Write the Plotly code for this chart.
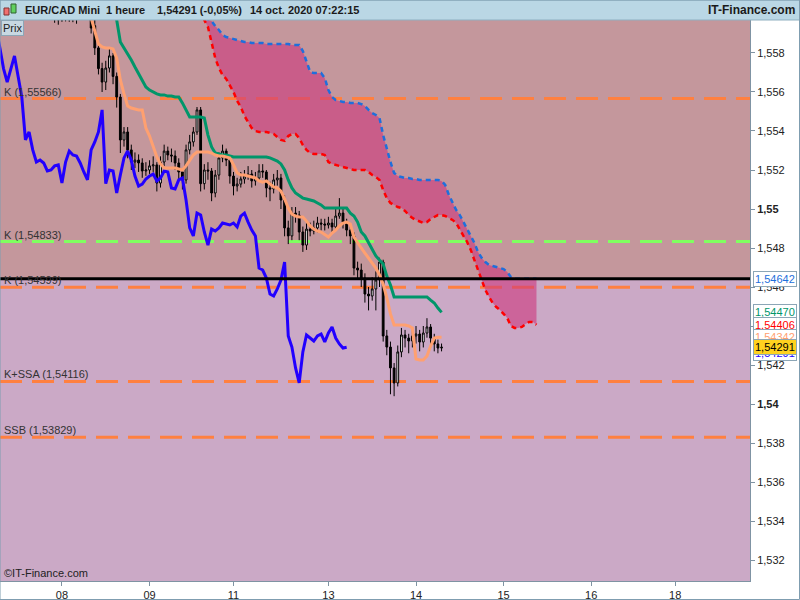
import plotly.graph_objects as go

# EUR/CAD Mini, 1 hour bars. Bar index 0 = 14 oct. 00:00 (weekends skipped)
first_bar = -100
opens = [1.56040, 1.56010, 1.55980, 1.55970, 1.56020, 1.55990, 1.56030, 1.56000, 1.56010, 1.56050, 1.56030, 1.55990,
         1.55940, 1.55826, 1.55720, 1.55651, 1.55723, 1.55785, 1.55680, 1.55574, 1.55354, 1.55395,
         1.55303, 1.55241, 1.55251, 1.55236, 1.55195, 1.55200, 1.55221, 1.55226, 1.55133, 1.55241,
         1.55297, 1.55277, 1.55272, 1.55236, 1.55190, 1.55149, 1.55303, 1.55344, 1.55395, 1.55508,
         1.55130, 1.55200, 1.55195, 1.55082, 1.55174, 1.55262, 1.55297, 1.55251, 1.55169, 1.55118,
         1.55128, 1.55154, 1.55169, 1.55179, 1.55144, 1.55159, 1.55195, 1.55190, 1.55108, 1.55103,
         1.55149, 1.55159, 1.55046, 1.54903, 1.54862, 1.54979, 1.54969, 1.54882, 1.54815, 1.54897,
         1.54887, 1.54903, 1.54928, 1.54923, 1.54918, 1.54928, 1.54908, 1.54964, 1.54979, 1.54933,
         1.54892, 1.54862, 1.54697, 1.54687, 1.54646, 1.54564, 1.54554, 1.54590, 1.54636, 1.54728,
         1.54349, 1.54292, 1.54185, 1.54108, 1.54267, 1.54354, 1.54338, 1.54323, 1.54349, 1.54359,
         1.54318, 1.54364, 1.54395, 1.54338, 1.54308, 1.54287]
highs = [1.56080, 1.56050, 1.56020, 1.56060, 1.56050, 1.56070, 1.56060, 1.56040, 1.56080, 1.56090, 1.56060, 1.56020,
         1.55970, 1.55850, 1.55750, 1.55760, 1.55820, 1.55800, 1.55700, 1.55590, 1.55420, 1.55420,
         1.55330, 1.55290, 1.55280, 1.55260, 1.55240, 1.55250, 1.55270, 1.55240, 1.55270, 1.55330,
         1.55320, 1.55310, 1.55300, 1.55260, 1.55210, 1.55330, 1.55380, 1.55420, 1.55523, 1.55523,
         1.55230, 1.55240, 1.55210, 1.55200, 1.55290, 1.55330, 1.55310, 1.55270, 1.55190, 1.55160,
         1.55190, 1.55200, 1.55220, 1.55200, 1.55190, 1.55230, 1.55230, 1.55200, 1.55140, 1.55180,
         1.55200, 1.55180, 1.55070, 1.54940, 1.55010, 1.55010, 1.54990, 1.54910, 1.54930, 1.54930,
         1.54940, 1.54960, 1.54950, 1.54950, 1.54960, 1.54950, 1.55000, 1.55056, 1.55000, 1.54950,
         1.54910, 1.54880, 1.54730, 1.54720, 1.54670, 1.54600, 1.54650, 1.54680, 1.54750, 1.54740,
         1.54380, 1.54320, 1.54210, 1.54300, 1.54390, 1.54380, 1.54360, 1.54390, 1.54400, 1.54380,
         1.54400, 1.54440, 1.54410, 1.54360, 1.54330, 1.54310]
lows = [1.55990, 1.55955, 1.55945, 1.55960, 1.55962, 1.55960, 1.55958, 1.55950, 1.55990, 1.56000, 1.55970, 1.55900,
        1.55790, 1.55690, 1.55600, 1.55610, 1.55700, 1.55640, 1.55520, 1.55287, 1.55320, 1.55260,
        1.55200, 1.55210, 1.55190, 1.55160, 1.55170, 1.55180, 1.55190, 1.55090, 1.55110, 1.55220,
        1.55250, 1.55240, 1.55200, 1.55150, 1.55100, 1.55130, 1.55280, 1.55320, 1.55380, 1.55090,
        1.55100, 1.55150, 1.55040, 1.55060, 1.55150, 1.55240, 1.55220, 1.55130, 1.55070, 1.55090,
        1.55110, 1.55130, 1.55150, 1.55110, 1.55120, 1.55140, 1.55160, 1.55060, 1.55040, 1.55080,
        1.55120, 1.55000, 1.54860, 1.54820, 1.54840, 1.54930, 1.54840, 1.54780, 1.54790, 1.54860,
        1.54870, 1.54880, 1.54890, 1.54890, 1.54900, 1.54880, 1.54890, 1.54950, 1.54900, 1.54860,
        1.54820, 1.54660, 1.54640, 1.54600, 1.54520, 1.54480, 1.54530, 1.54480, 1.54600, 1.54320,
        1.54250, 1.54050, 1.54040, 1.54090, 1.54240, 1.54290, 1.54260, 1.54290, 1.54310, 1.54270,
        1.54290, 1.54340, 1.54290, 1.54270, 1.54260, 1.54270]
closes = [1.56010, 1.55980, 1.55970, 1.56020, 1.55990, 1.56030, 1.56000, 1.56010, 1.56050, 1.56030, 1.55990, 1.55928,
          1.55826, 1.55720, 1.55651, 1.55723, 1.55785, 1.55680, 1.55574, 1.55354, 1.55395, 1.55303,
          1.55241, 1.55251, 1.55236, 1.55195, 1.55200, 1.55221, 1.55226, 1.55133, 1.55241, 1.55297,
          1.55277, 1.55272, 1.55236, 1.55190, 1.55149, 1.55303, 1.55344, 1.55395, 1.55508, 1.55130,
          1.55200, 1.55195, 1.55082, 1.55174, 1.55262, 1.55297, 1.55251, 1.55169, 1.55118, 1.55128,
          1.55154, 1.55169, 1.55179, 1.55144, 1.55159, 1.55195, 1.55190, 1.55108, 1.55103, 1.55149,
          1.55159, 1.55046, 1.54903, 1.54862, 1.54979, 1.54969, 1.54882, 1.54815, 1.54897, 1.54887,
          1.54903, 1.54928, 1.54923, 1.54918, 1.54928, 1.54908, 1.54964, 1.54979, 1.54933, 1.54892,
          1.54862, 1.54697, 1.54687, 1.54646, 1.54564, 1.54554, 1.54590, 1.54636, 1.54728, 1.54349,
          1.54292, 1.54185, 1.54108, 1.54267, 1.54354, 1.54338, 1.54323, 1.54349, 1.54359, 1.54318,
          1.54364, 1.54395, 1.54338, 1.54308, 1.54287, 1.54291]

# Ichimoku lines
tenkan_start = -90
tenkan = [1.56046, 1.55979, 1.55918, 1.55846, 1.55831, 1.55826, 1.55826, 1.55821, 1.55774, 1.55662,
          1.55590, 1.55528, 1.55518, 1.55513, 1.55508, 1.55508, 1.55415, 1.55374, 1.55323, 1.55267,
          1.55231, 1.55210, 1.55210, 1.55210, 1.55210, 1.55205, 1.55200, 1.55221, 1.55246, 1.55277,
          1.55292, 1.55292, 1.55292, 1.55292, 1.55287, 1.55277, 1.55272, 1.55272, 1.55267, 1.55262,
          1.55226, 1.55185, 1.55174, 1.55174, 1.55169, 1.55164, 1.55159, 1.55144, 1.55138, 1.55144,
          1.55128, 1.55113, 1.55108, 1.55092, 1.55051, 1.55005, 1.54974, 1.54964, 1.54959, 1.54959,
          1.54938, 1.54913, 1.54897, 1.54887, 1.54882, 1.54867, 1.54856, 1.54877, 1.54892, 1.54913,
          1.54928, 1.54933, 1.54923, 1.54856, 1.54826, 1.54800, 1.54774, 1.54749, 1.54723, 1.54697,
          1.54662, 1.54615, 1.54544, 1.54462, 1.54405, 1.54405, 1.54405, 1.54405, 1.54400, 1.54390,
          1.54231, 1.54226, 1.54226, 1.54246, 1.54297, 1.54338, 1.54342, 1.54342]
kijun_start = -83
kijun = [1.56046, 1.55969, 1.55856, 1.55826, 1.55795, 1.55764, 1.55728, 1.55692, 1.55656, 1.55626,
         1.55610, 1.55600, 1.55590, 1.55585, 1.55585, 1.55579, 1.55579, 1.55574, 1.55574, 1.55544,
         1.55508, 1.55472, 1.55472, 1.55472, 1.55472, 1.55467, 1.55379, 1.55318, 1.55287, 1.55282,
         1.55277, 1.55277, 1.55272, 1.55267, 1.55267, 1.55267, 1.55267, 1.55267, 1.55267, 1.55267,
         1.55267, 1.55267, 1.55267, 1.55262, 1.55256, 1.55246, 1.55231, 1.55200, 1.55149, 1.55108,
         1.55082, 1.55067, 1.55056, 1.55051, 1.55046, 1.55041, 1.55031, 1.55021, 1.55005, 1.55005,
         1.55005, 1.55005, 1.55005, 1.55005, 1.55005, 1.54979, 1.54964, 1.54933, 1.54882, 1.54862,
         1.54826, 1.54790, 1.54759, 1.54738, 1.54718, 1.54656, 1.54610, 1.54549, 1.54549, 1.54549,
         1.54549, 1.54549, 1.54549, 1.54549, 1.54549, 1.54549, 1.54549, 1.54533, 1.54518, 1.54492, 1.54470]
cloud_start = -59
ssa = [1.56021, 1.55969, 1.55933, 1.55856, 1.55774, 1.55723, 1.55687, 1.55667, 1.55636, 1.55600,
       1.55554, 1.55523, 1.55477, 1.55446, 1.55415, 1.55400, 1.55395, 1.55395, 1.55395, 1.55390,
       1.55385, 1.55369, 1.55354, 1.55349, 1.55374, 1.55385, 1.55385, 1.55364, 1.55328, 1.55303,
       1.55287, 1.55282, 1.55282, 1.55282, 1.55277, 1.55241, 1.55231, 1.55226, 1.55221, 1.55215,
       1.55210, 1.55205, 1.55200, 1.55200, 1.55200, 1.55200, 1.55190, 1.55174, 1.55164, 1.55149,
       1.55097, 1.55056, 1.55031, 1.55021, 1.55010, 1.55005, 1.54990, 1.54969, 1.54954, 1.54944,
       1.54938, 1.54928, 1.54933, 1.54949, 1.54959, 1.54969, 1.54969, 1.54964, 1.54954, 1.54944,
       1.54928, 1.54892, 1.54862, 1.54831, 1.54790, 1.54738, 1.54687, 1.54636, 1.54585, 1.54549,
       1.54518, 1.54497, 1.54482, 1.54462, 1.54441, 1.54400, 1.54390, 1.54390, 1.54395, 1.54410,
       1.54421, 1.54421, 1.54406]
ssb = [1.56021, 1.55979, 1.55974, 1.55964, 1.55938, 1.55918, 1.55892, 1.55882, 1.55877, 1.55872,
       1.55867, 1.55862, 1.55856, 1.55856, 1.55851, 1.55851, 1.55851, 1.55851, 1.55846, 1.55846,
       1.55846, 1.55846, 1.55846, 1.55846, 1.55846, 1.55841, 1.55841, 1.55841, 1.55810, 1.55754,
       1.55703, 1.55697, 1.55697, 1.55697, 1.55672, 1.55610, 1.55574, 1.55559, 1.55554, 1.55549,
       1.55549, 1.55544, 1.55544, 1.55544, 1.55538, 1.55528, 1.55508, 1.55492, 1.55482, 1.55467,
       1.55379, 1.55303, 1.55241, 1.55185, 1.55169, 1.55164, 1.55159, 1.55159, 1.55154, 1.55154,
       1.55149, 1.55149, 1.55149, 1.55149, 1.55149, 1.55149, 1.55144, 1.55123, 1.55072, 1.55031,
       1.54995, 1.54969, 1.54933, 1.54903, 1.54867, 1.54826, 1.54779, 1.54749, 1.54728, 1.54713,
       1.54708, 1.54703, 1.54697, 1.54692, 1.54677, 1.54651, 1.54642, 1.54642, 1.54642, 1.54642,
       1.54642, 1.54642, 1.54642]
chikou_shift = 26

# horizontal levels
level_names = ["K", "K", "K", "K+SSA", "SSB"]
level_values = [1.55566, 1.54833, 1.54599, 1.54116, 1.53829]
kumo_level = 1.54642

x_tick_pos = [-97, -73, -50, -24, 0, 24, 48, 71]
x_tick_labels = ["08", "09", "11", "13", "14", "15", "16", "18"]
y_ticks = [1.532, 1.534, 1.536, 1.538, 1.540, 1.542, 1.544, 1.546, 1.548, 1.550, 1.552, 1.554, 1.556, 1.558]

X_RANGE = [-113.97, 91.5]
Y_RANGE = [1.530923, 1.559692]
FONT = "Liberation Sans, Arial, sans-serif"

bars = list(range(first_bar, first_bar + len(closes)))
tenkan_x = list(range(tenkan_start, tenkan_start + len(tenkan)))
kijun_x = list(range(kijun_start, kijun_start + len(kijun)))
cloud_x = list(range(cloud_start, cloud_start + len(ssa)))
chikou_x = [b - chikou_shift for b in bars]


def fmt(v, dec):
    return f"{v:.{dec}f}".replace(".", ",")


def tick_text(v):
    s = f"{v:.3f}".rstrip("0").replace(".", ",")
    return f"<b>{s}</b>" if len(s) <= 4 else s


fig = go.Figure()

# kumo
fig.add_trace(go.Scatter(x=cloud_x, y=ssa, mode="lines", line=dict(width=0), showlegend=False, hoverinfo="skip"))
fig.add_trace(go.Scatter(x=cloud_x, y=ssb, mode="lines", line=dict(width=0), fill="tonexty",
                         fillcolor="rgba(205,55,125,0.6)", showlegend=False, hoverinfo="skip"))
fig.add_trace(go.Scatter(x=cloud_x, y=ssa, mode="lines", line=dict(color="#FF0000", width=2.5, dash="5px,4px"),
                         showlegend=False))
fig.add_trace(go.Scatter(x=cloud_x, y=ssb, mode="lines", line=dict(color="#1E6FDC", width=2.5, dash="5px,4px"),
                         showlegend=False))

fig.add_trace(go.Candlestick(
    x=bars, open=opens, high=highs, low=lows, close=closes,
    increasing=dict(line=dict(color="black", width=1), fillcolor="white"),
    decreasing=dict(line=dict(color="black", width=1), fillcolor="black"),
    whiskerwidth=0, showlegend=False))

fig.add_trace(go.Scatter(x=chikou_x, y=closes, mode="lines", line=dict(color="#2200FF", width=3), showlegend=False))
fig.add_trace(go.Scatter(x=kijun_x, y=kijun, mode="lines", line=dict(color="#00966A", width=3), showlegend=False))
fig.add_trace(go.Scatter(x=tenkan_x, y=tenkan, mode="lines", line=dict(color="#FFA070", width=3), showlegend=False))

shapes = []
# zone shading above / below the black line
shapes.append(dict(type="rect", xref="paper", yref="y", x0=0, x1=1, y0=kumo_level, y1=Y_RANGE[1],
                   fillcolor="#C4979C", line=dict(width=0), layer="below"))
shapes.append(dict(type="rect", xref="paper", yref="y", x0=0, x1=1, y0=Y_RANGE[0], y1=kumo_level,
                   fillcolor="#CBA9C6", line=dict(width=0), layer="below"))
for name, v in zip(level_names, level_values):
    col = "#80FF60" if v == 1.54833 else "#FF8040"
    shapes.append(dict(type="line", xref="paper", yref="y", x0=0, x1=1, y0=v, y1=v,
                       line=dict(color=col, width=3, dash="22px,10px"), layer="below"))
shapes.append(dict(type="line", xref="paper", yref="y", x0=0, x1=1, y0=kumo_level, y1=kumo_level,
                   line=dict(color="black", width=3)))

# header bar and frame
hdr_top = 1 + 20 / 561
shapes.append(dict(type="rect", xref="paper", yref="paper", x0=0, x1=800 / 750, y0=1, y1=hdr_top,
                   fillcolor="#BAD7E5", line=dict(color="#8FAFC0", width=1)))
shapes.append(dict(type="rect", xref="paper", yref="paper", x0=4 / 750, x1=9 / 750,
                   y0=1 + 5 / 561, y1=1 + 12 / 561, fillcolor="#F07070", line=dict(color="#803030", width=1)))
shapes.append(dict(type="rect", xref="paper", yref="paper", x0=11 / 750, x1=16 / 750,
                   y0=1 + 7 / 561, y1=1 + 16 / 561, fillcolor="#60D060", line=dict(color="#306030", width=1)))
shapes.append(dict(type="rect", xref="paper", yref="paper", x0=0, x1=799.5 / 750, y0=-18.5 / 561, y1=hdr_top,
                   line=dict(color="#7F9DB0", width=1)))

ann = []
hy = 1 + 10 / 561
for txt, px in [("EUR/CAD Mini", 23), ("1 heure", 104), ("1,54291 (-0,05%)", 155), ("14 oct. 2020 07:22:15", 248)]:
    ann.append(dict(text=txt, xref="paper", yref="paper", x=px / 750, y=hy, xanchor="left", yanchor="middle",
                    showarrow=False, font=dict(family=FONT, size=11, color="#1A1A1A", weight="bold")))
ann.append(dict(text="IT-Finance.com", xref="paper", yref="paper", x=797 / 750, y=hy, xanchor="right",
                yanchor="middle", showarrow=False, font=dict(family=FONT, size=12, color="#1A1A1A", weight="bold")))
ann.append(dict(text="Prix", xref="paper", yref="paper", x=0.001, y=1, xanchor="left", yanchor="top",
                showarrow=False, bgcolor="#C8D8E2", bordercolor="#8CA6B6", borderwidth=1, borderpad=1,
                font=dict(family=FONT, size=11, color="#222")))
ann.append(dict(text="©IT-Finance.com", xref="paper", yref="paper", x=0.002, y=8 / 561, xanchor="left",
                yanchor="middle", showarrow=False, font=dict(family=FONT, size=11, color="#222")))

for name, v in zip(level_names, level_values):
    ann.append(dict(text=f"{name} ({fmt(v, 5)})", xref="paper", yref="y", x=0.002, y=v, xanchor="left",
                    yanchor="bottom", yshift=-1, showarrow=False, font=dict(family=FONT, size=11, color="#333")))

# value boxes on the price axis
boxes = [(kumo_level, "#1E6FDC", "white", 0), (kijun[-1], "#00966A", "white", 0), (ssa[-1], "#FF0000", "white", 0),
         (tenkan[-1], "#FFA070", "white", 0), (closes[-1], "#2200FF", "white", -6), (closes[-1], "black", "#FFD21F", 0)]
for v, fc, bg, sh in boxes:
    ann.append(dict(text=fmt(v, 5), xref="paper", yref="y", x=1, y=v, xanchor="left", yanchor="middle",
                    xshift=3, yshift=sh, showarrow=False, bgcolor=bg, bordercolor="#8CA6B6", borderwidth=1,
                    borderpad=1, font=dict(family=FONT, size=11, color=fc)))

fig.update_layout(
    width=800, height=600,
    margin=dict(l=0, r=50, t=20, b=19),
    paper_bgcolor="white", plot_bgcolor="#CBA9C6",
    showlegend=False,
    shapes=shapes, annotations=ann,
    font=dict(family=FONT, size=11, color="#222"),
    xaxis=dict(range=X_RANGE, tickvals=x_tick_pos, ticktext=x_tick_labels, showgrid=False, zeroline=False,
               ticks="outside", ticklen=4, tickcolor="#7F93A3", showline=True, linecolor="#7F93A3",
               mirror=True, rangeslider=dict(visible=False), tickfont=dict(size=11, color="#222")),
    yaxis=dict(range=Y_RANGE, side="right", tickvals=y_ticks, ticktext=[tick_text(v) for v in y_ticks],
               showgrid=False, zeroline=False, ticks="outside", ticklen=4, tickcolor="#7F93A3",
               showline=True, linecolor="#7F93A3", mirror=True, tickfont=dict(size=11, color="#222")),
)

# the page's default body margin would push the 800x600 figure out of the window
fig.write_html("out.html", config={"displayModeBar": False},
               post_script="document.body.style.margin='0';")
